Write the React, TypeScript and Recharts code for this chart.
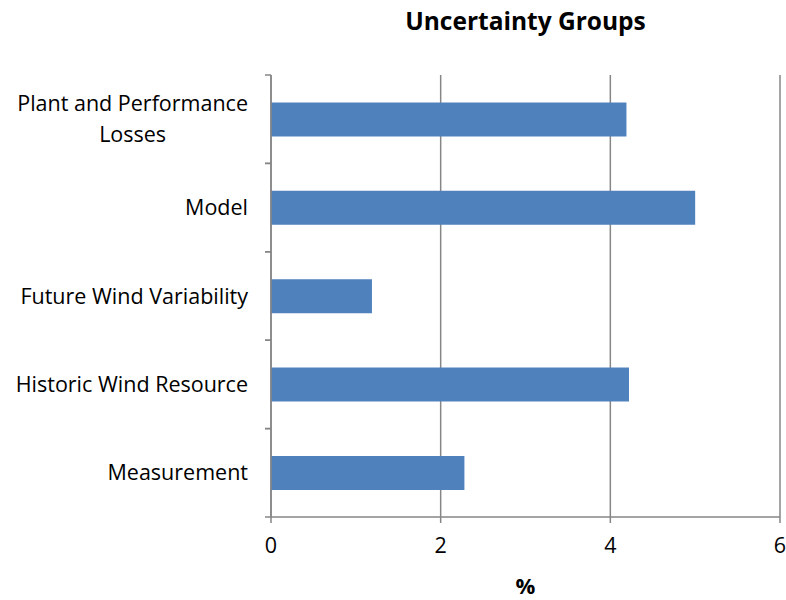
import React from 'react';
import { BarChart, Bar, XAxis, YAxis, CartesianGrid } from 'recharts';

const categories = [
  'Plant and Performance\nLosses',
  'Model',
  'Future Wind Variability',
  'Historic Wind Resource',
  'Measurement',
];
const values = [4.19, 5.0, 1.19, 4.22, 2.28];
const xTicks = [0, 2, 4, 6];
const title = 'Uncertainty Groups';
const xLabel = '%';

const data = categories.map((name, i) => ({ name, value: values[i] }));

const FONT = "'Open Sans', Lato, sans-serif";
const TICK_FS = 21.5;
const Y_TICK_SIZE = 6;
const Y_TICK_MARGIN = 17;
const GRAY = '#868686';

let ctx: CanvasRenderingContext2D | null = null;
function measure(t: string): number {
  if (!ctx) {
    const c = document.createElement('canvas');
    ctx = c.getContext('2d');
  }
  if (!ctx) return t.length * TICK_FS * 0.5;
  ctx.font = `${TICK_FS}px ${FONT}`;
  return ctx.measureText(t).width;
}

const YTick = (props: any) => {
  const { x, y, payload } = props;
  const lines = String(payload.value).split('\n');
  const half = payload.offset ?? 0;
  const axisX = x + Y_TICK_SIZE + Y_TICK_MARGIN;
  const maxW = Math.max(...lines.map(measure));
  const cx = x - maxW / 2;
  const lh = 31;
  return (
    <g>
      <line x1={axisX - Y_TICK_SIZE} x2={axisX} y1={y - half} y2={y - half} stroke={GRAY} strokeWidth={1.5} />
      <line x1={axisX - Y_TICK_SIZE} x2={axisX} y1={y + half} y2={y + half} stroke={GRAY} strokeWidth={1.5} />
      <text fontFamily={FONT} fontSize={TICK_FS} fill="#000" textAnchor="middle">
        {lines.map((l, i) => (
          <tspan key={i} x={cx} y={y + (i - (lines.length - 1) / 2) * lh} dy="0.35em">
            {l}
          </tspan>
        ))}
      </text>
    </g>
  );
};

export default function App() {
  return (
    <div style={{ position: 'absolute', left: 0, top: 0, width: 786, height: 600, background: '#fff' }}>
      <div
        style={{
          position: 'absolute',
          left: 271,
          width: 509,
          top: 4,
          textAlign: 'center',
          fontFamily: FONT,
          fontWeight: 'bold',
          fontSize: 24.5,
          color: '#000',
        }}
      >
        {title}
      </div>
      <BarChart
        width={786}
        height={600}
        data={data}
        layout="vertical"
        margin={{ top: 75, right: 6, bottom: 0, left: 0 }}
        barCategoryGap="31%"
      >
        <CartesianGrid horizontal={false} stroke={GRAY} strokeWidth={1.5} />
        <XAxis
          type="number"
          domain={[0, 6]}
          ticks={xTicks}
          height={83}
          axisLine={{ stroke: GRAY, strokeWidth: 1.5 }}
          tickLine={{ stroke: GRAY, strokeWidth: 1.5 }}
          tickSize={6}
          tickMargin={15}
          tick={{ fontFamily: FONT, fontSize: TICK_FS, fill: '#000' }}
          label={{
            value: xLabel,
            position: 'insideBottom',
            offset: 6,
            fontFamily: FONT,
            fontSize: 22,
            fontWeight: 'bold',
            fill: '#000',
          }}
        />
        <YAxis
          type="category"
          dataKey="name"
          width={271}
          axisLine={{ stroke: GRAY, strokeWidth: 1.5 }}
          tickLine={{ stroke: 'none' }}
          tickSize={Y_TICK_SIZE}
          tickMargin={Y_TICK_MARGIN}
          tick={<YTick />}
          interval={0}
        />
        <Bar dataKey="value" fill="#4F81BD" isAnimationActive={false} />
      </BarChart>
    </div>
  );
}
